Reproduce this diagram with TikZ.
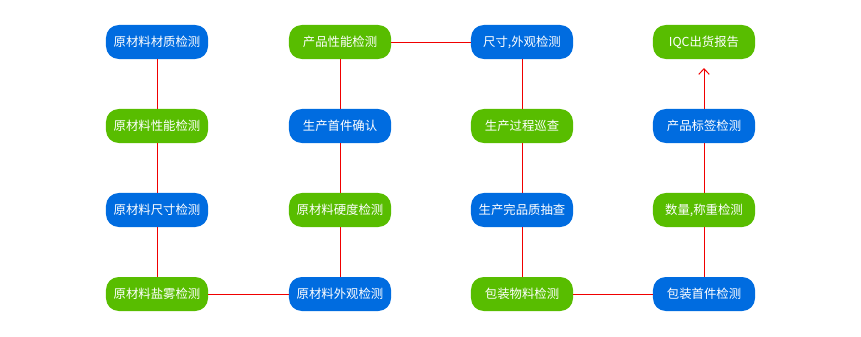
\documentclass[tikz,border=0pt]{standalone}
\usepackage{fontspec}
\newfontfamily\cjk{Noto Sans CJK SC}
\definecolor{qcblue}{RGB}{0,108,224}
\definecolor{qcgreen}{RGB}{88,189,0}
\definecolor{qcred}{RGB}{240,0,0}
\usetikzlibrary{arrows.meta,positioning}

\begin{document}
\begin{tikzpicture}[
  x=0.025cm,y=-0.025cm,
  stage/.style={minimum width=2.55cm,minimum height=0.85cm,rounded corners=0.32cm,
    font=\cjk\fontsize{8.8}{10}\selectfont,text=white,inner sep=0pt},
  blu/.style={stage,fill=qcblue},
  grn/.style={stage,fill=qcgreen},
  link/.style={qcred,line width=0.7pt},
  arr/.style={-{Straight Barb[length=1.4mm,width=2.6mm]},qcred,line width=0.7pt}
]
  \useasboundingbox (0,0) rectangle (861,336);
  % Column 1: raw material
  \node[blu] (a1) at (157,42) {原材料材质检测};
  \node[grn] (a2) at (157,126) {原材料性能检测};
  \node[blu] (a3) at (157,210) {原材料尺寸检测};
  \node[grn] (a4) at (157,294) {原材料盐雾检测};
  % Column 2: first article
  \node[grn] (b1) at (340,42) {产品性能检测};
  \node[blu] (b2) at (340,126) {生产首件确认};
  \node[grn] (b3) at (340,210) {原材料硬度检测};
  \node[blu] (b4) at (340,294) {原材料外观检测};
  % Column 3: production
  \node[blu] (c1) at (522,42) {尺寸,外观检测};
  \node[grn] (c2) at (522,126) {生产过程巡查};
  \node[blu] (c3) at (522,210) {生产完品质抽查};
  \node[grn] (c4) at (522,294) {包装物料检测};
  % Column 4: packing and report
  \node[grn] (d1) at (704,42) {IQC出货报告};
  \node[blu] (d2) at (704,126) {产品标签检测};
  \node[grn] (d3) at (704,210) {数量,称重检测};
  \node[blu] (d4) at (704,294) {包装首件检测};
  \coordinate (tip) at (704,68);
  % Flow lines
  \draw[link] (a1) -- (a2) -- (a3) -- (a4) -- (b4) -- (b3) -- (b2) -- (b1)
    -- (c1) -- (c2) -- (c3) -- (c4) -- (d4) -- (d3) -- (d2);
  \draw[arr] (d2) -- (tip);
\end{tikzpicture}
\end{document}
